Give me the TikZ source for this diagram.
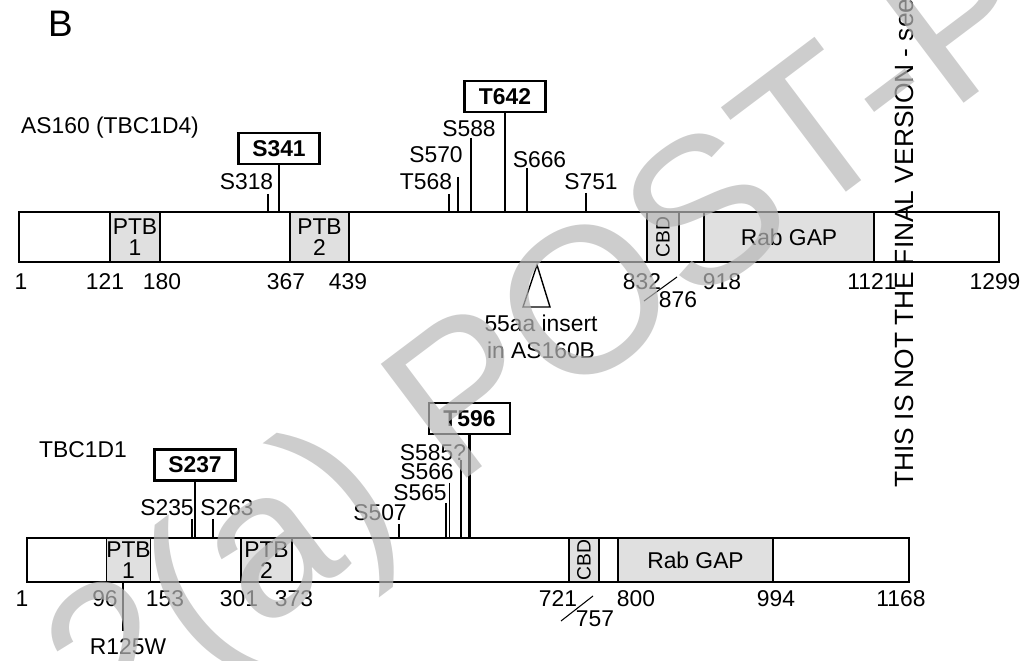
\documentclass[tikz,border=0pt]{standalone}
\usepackage{fontspec}
\setmainfont{Liberation Sans}

\tikzset{
	lbl/.style={inner sep=0pt, font=\fontsize{13}{15}\selectfont},
	site/.style={draw, line width=1.4pt, inner sep=0pt, minimum width=1.62cm, minimum height=0.62cm, font=\fontsize{13}{15}\selectfont\bfseries},
	bar/.style={draw, line width=0.8pt, inner sep=0pt},
	dom/.style={draw, line width=0.8pt, fill=black!12, inner sep=0pt, align=center, font=\fontsize{13}{12}\selectfont},
	cbd/.style={dom, rotate=90, font=\fontsize{11}{12}\selectfont},
	tick/.style={line width=0.6pt},
	bigtick/.style={line width=1.4pt},
}

\begin{document}
\begin{tikzpicture}[x=0.02cm, y=-0.02cm]
		\useasboundingbox (0,0) rectangle (1025,661);
		\node[inner sep=0pt, font=\fontsize{21}{21}\selectfont] (panel) at (60.5,24) {B};

		% AS160
		\node[lbl] (as160name) at (110,128) {AS160 (TBC1D4)};
		\node[bar, minimum width=19.6cm, minimum height=1cm] (as160) at (509,237) {};
		\node[dom, minimum width=1cm, minimum height=1cm] (aptb1) at (135,237) {PTB\\1};
		\node[dom, minimum width=1.18cm, minimum height=1cm] (aptb2) at (319.5,237) {PTB\\2};
		\node[cbd, minimum width=1cm, minimum height=0.64cm] (acbd) at (663,237) {CBD};
		\node[dom, minimum width=3.4cm, minimum height=1cm] (agap) at (789,237) {Rab GAP};

		\coordinate (t318) at (268,194);
		\coordinate (t568) at (449,194);
		\coordinate (t570) at (458,177);
		\coordinate (t588) at (471,138);
		\coordinate (t666) at (527,168);
		\coordinate (t751) at (586,193);
		\draw[tick] (t318) -- (t318 |- as160.north);
		\draw[tick] (t568) -- (t568 |- as160.north);
		\draw[tick] (t570) -- (t570 |- as160.north);
		\draw[tick] (t588) -- (t588 |- as160.north);
		\draw[tick] (t666) -- (t666 |- as160.north);
		\draw[tick] (t751) -- (t751 |- as160.north);
		\node[lbl] (l318) at (246.5,182) {S318};
		\node[lbl] (l568) at (426,182) {T568};
		\node[lbl] (l570) at (436,155) {S570};
		\node[lbl] (l588) at (469,128.5) {S588};
		\node[lbl] (l666) at (539.5,159.5) {S666};
		\node[lbl] (l751) at (591,181.5) {S751};

		\node[site] (s341) at (279,148.5) {S341};
		\node[site] (t642) at (505,96.5) {T642};
		\draw[bigtick] (s341.south) -- (s341.south |- as160.north);
		\draw[bigtick] (t642.south) -- (t642.south |- as160.north);

		\node[lbl] (a1) at (21,282) {1};
		\node[lbl] (a121) at (105,282) {121};
		\node[lbl] (a180) at (162,282) {180};
		\node[lbl] (a367) at (286,282) {367};
		\node[lbl] (a439) at (348,282) {439};
		\node[lbl] (a832) at (642,282) {832};
		\node[lbl] (a876) at (678,300) {876};
		\node[lbl] (a918) at (722,282) {918};
		\node[lbl] (a1121) at (872,282) {1121};
		\node[lbl] (a1299) at (995,282) {1299};
		\coordinate (asl1) at (644,301);
		\coordinate (asl2) at (677,277);
		\draw[tick] (asl1) -- (asl2);

		\draw[line width=0.8pt, fill=white] (537,265) -- (523,307) -- (550,307) -- cycle;
		\node[lbl, align=center, font=\fontsize{13}{15.4}\selectfont] (insert) at (541,336.5) {55aa insert\\in AS160B};

		% TBC1D1
		\node[lbl] (tbcname) at (83,450) {TBC1D1};
		\node[bar, minimum width=17.64cm, minimum height=0.88cm] (tbc1d1) at (468,560) {};
		\node[dom, minimum width=0.82cm, minimum height=0.88cm] (bptb1) at (128.5,560) {PTB\\1};
		\node[dom, minimum width=1.02cm, minimum height=0.88cm] (bptb2) at (266.5,560) {PTB\\2};
		\node[cbd, minimum width=0.88cm, minimum height=0.6cm] (bcbd) at (584,560) {CBD};
		\node[dom, minimum width=3.1cm, minimum height=0.88cm] (bgap) at (695.5,560) {Rab GAP};

		\coordinate (t235) at (192,519);
		\coordinate (t263) at (213,519);
		\coordinate (t507) at (399,524);
		\coordinate (t565) at (446,503);
		\coordinate (t566) at (449.5,483);
		\coordinate (t585) at (461,460);
		\draw[tick] (t235) -- (t235 |- tbc1d1.north);
		\draw[tick] (t263) -- (t263 |- tbc1d1.north);
		\draw[tick] (t507) -- (t507 |- tbc1d1.north);
		\draw[tick] (t565) -- (t565 |- tbc1d1.north);
		\draw[tick] (t566) -- (t566 |- tbc1d1.north);
		\draw[tick] (t585) -- (t585 |- tbc1d1.north);
		\node[lbl] (l235) at (167,508) {S235};
		\node[lbl] (l263) at (227,508) {S263};
		\node[lbl] (l507) at (380,513) {S507};
		\node[lbl] (l565) at (420,493) {S565};
		\node[lbl] (l566) at (427,472) {S566};
		\node[lbl] (l585) at (433,453) {S585?};

		\node[site] (s237) at (195,465) {S237};
		\node[site] (t596) at (469.5,418.5) {T596};
		\draw[bigtick] (s237.south) -- (s237.south |- tbc1d1.north);
		\draw[bigtick] (t596.south) -- (t596.south |- tbc1d1.north);

		\node[lbl] (b1) at (22,599) {1};
		\node[lbl] (b96) at (105,599) {96};
		\node[lbl] (b153) at (165,599) {153};
		\node[lbl] (b301) at (239,599) {301};
		\node[lbl] (b373) at (294,599) {373};
		\node[lbl] (b721) at (558,599) {721};
		\node[lbl] (b757) at (595,619) {757};
		\node[lbl] (b800) at (636,599) {800};
		\node[lbl] (b994) at (776,599) {994};
		\node[lbl] (b1168) at (901,599) {1168};
		\coordinate (bsl1) at (561,621);
		\coordinate (bsl2) at (593,596);
		\draw[tick] (bsl1) -- (bsl2);

		\coordinate (r125) at (123,631);
		\draw[tick] (r125) -- (r125 |- tbc1d1.south);
		\node[lbl] (l125) at (128,647) {R125W};

		% margin notes
		\node[inner sep=0pt, anchor=base west, rotate=90, font=\fontsize{15}{15}\selectfont] (note) at (913,488) {THIS IS NOT THE FINAL VERSION - see};
		\node[inner sep=0pt, anchor=base west, rotate=37, text=black!28, text opacity=0.7, font=\fontsize{118}{118}\selectfont] (stamp) at (113,745) {2(a) POST-P};
	\end{tikzpicture}
\end{document}
